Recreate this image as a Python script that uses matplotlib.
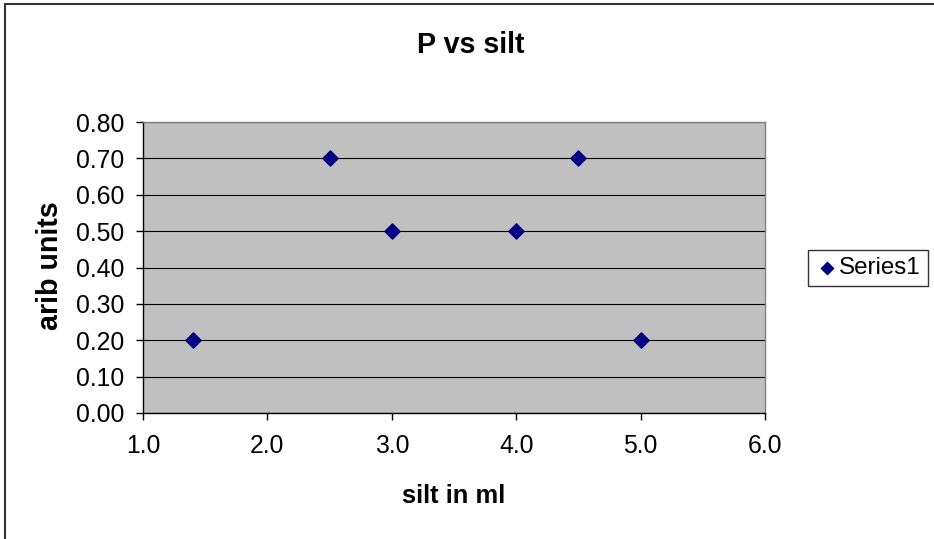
import matplotlib
matplotlib.use("Agg")
import matplotlib.pyplot as plt
from matplotlib.patches import Rectangle

plt.rcParams['font.family'] = ['Liberation Sans', 'DejaVu Sans']

silt_ml = [1.4, 2.5, 3.0, 4.0, 4.5, 5.0]
p_values = [0.20, 0.70, 0.50, 0.50, 0.70, 0.20]
x_ticks = [1.0, 2.0, 3.0, 4.0, 5.0, 6.0]
y_ticks = [0.0, 0.1, 0.2, 0.3, 0.4, 0.5, 0.6, 0.7, 0.8]
series_name = "Series1"

W, H = 934, 539
fig = plt.figure(figsize=(W / 100, H / 100), dpi=100)
fig.patch.set_facecolor('white')

# chart frame (top and left edges visible)
fig.patches.append(Rectangle((5 / W, -0.05), 1.2, (H - 4) / H + 0.05,
                             transform=fig.transFigure, fill=False,
                             edgecolor='#333333', linewidth=1.5))

ax = fig.add_axes([143 / W, 1 - 413 / H, (765 - 143) / W, (413 - 122) / H])
ax.set_facecolor('#C0C0C0')
ax.set_xlim(1.0, 6.0)
ax.set_ylim(0.0, 0.8)
ax.set_xticks(x_ticks)
ax.set_yticks(y_ticks)
ax.set_xticklabels([f"{v:.1f}" for v in x_ticks])
ax.set_yticklabels([f"{v:.2f}" for v in y_ticks])
ax.tick_params(direction='out', length=5, width=1, colors='black',
               labelsize=17.8)
ax.tick_params(axis='x', pad=10)
ax.tick_params(axis='y', pad=8.5)
ax.yaxis.grid(True, color='black', linewidth=0.8)
ax.set_axisbelow(True)
for s in ['top', 'right']:
    ax.spines[s].set_color('#808080')
    ax.spines[s].set_linewidth(1)
for s in ['left', 'bottom']:
    ax.spines[s].set_color('black')
    ax.spines[s].set_linewidth(1)

ax.scatter(silt_ml, p_values, marker='D', s=60, color='#000080',
           label=series_name, zorder=3)

fig.text(471 / W, 1 - 53 / H, "P vs silt", ha='center', va='baseline',
         fontsize=20.6, fontweight='bold')
fig.text(453.5 / W, 1 - 503 / H, "silt in ml", ha='center', va='baseline',
         fontsize=18.4, fontweight='bold')
fig.text(50 / W, 1 - 266 / H, "arib units", ha='center', va='center',
         rotation=90, fontsize=20.6, fontweight='bold')

leg = fig.legend(loc='center', bbox_to_anchor=(868 / W, 1 - 268 / H),
                 frameon=True, fancybox=False, fontsize=17.4,
                 handletextpad=0.05, borderpad=0.3, handlelength=0.9,
                 borderaxespad=0, markerscale=0.8)
leg.get_frame().set_edgecolor('black')
leg.get_frame().set_linewidth(1)

fig.savefig("out.png", dpi=100)
